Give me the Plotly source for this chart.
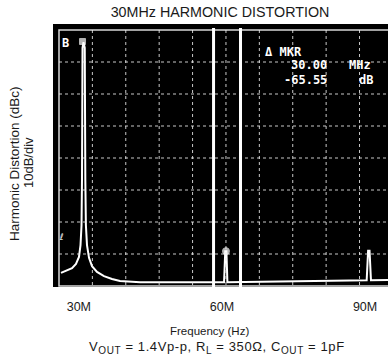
import plotly.graph_objects as go

# trace (MHz, dB rel. top graticule)
freq_mhz = [25.42, 26.47, 27.73, 28.56, 29.19, 29.51, 29.72, 29.82, 29.93, 30.14,
            30.40, 30.52, 30.64, 30.87, 31.29, 31.92, 32.97, 34.43, 36.11, 37.79,
            42.0, 50.0, 59.6, 59.85, 60.1, 60.3, 70.0, 80.0, 89.5, 89.8,
            90.1, 90.4, 94.0]
level_db = [-75.9, -75.3, -74.4, -73.1, -70.9, -67.2, -61.0, -47.0, -5.6, -3.8,
            -5.6, -47.0, -61.0, -67.2, -71.2, -73.8, -75.6, -76.9, -77.8, -78.4,
            -78.8, -78.8, -78.8, -69.1, -69.1, -78.8, -78.6, -78.4, -78.2, -69.0,
            -69.0, -78.2, -78.1]

marker_f = [29.93, 60.0]
marker_db = [-3.6, -69.1]
marker_sym = ["square", "circle"]

display_lines_mhz = [57.4, 63.05]

tick_vals = [30, 60, 90]
tick_text = ["30M", "60M", "90M"]

# graticule: 10 div x 8 div, 7 MHz/div, 10 dB/div
f_start = 25
f_div = 7
db_div = 10

W, H = 389, 364
L, R, T, B = 53, 1, 24, 77

fig = go.Figure()

fig.add_trace(go.Scatter(x=freq_mhz, y=level_db, mode="lines",
                         line=dict(color="white", width=2), hoverinfo="skip"))
fig.add_trace(go.Scatter(x=marker_f, y=marker_db, mode="markers",
                         marker=dict(color="white", size=[6, 7], symbol=marker_sym),
                         hoverinfo="skip"))

shapes = []
for k in range(1, 10):
    xv = f_start + k * f_div
    shapes.append(dict(type="line", xref="x", yref="y", x0=xv, x1=xv, y0=0, y1=-80,
                       line=dict(color="rgba(235,235,235,0.85)", width=1, dash="dot")))
for k in range(1, 8):
    yv = -k * db_div
    shapes.append(dict(type="line", xref="x", yref="y", x0=f_start, x1=f_start + 10 * f_div,
                       y0=yv, y1=yv,
                       line=dict(color="rgba(235,235,235,0.85)", width=1, dash="dot")))
shapes.append(dict(type="rect", xref="x", yref="y", x0=f_start, x1=f_start + 10 * f_div,
                   y0=0, y1=-80, line=dict(color="rgba(240,240,240,0.9)", width=1.5)))
for xv in display_lines_mhz:
    shapes.append(dict(type="line", xref="x", yref="paper", x0=xv, x1=xv, y0=0, y1=0.985,
                       line=dict(color="white", width=3)))

mono = dict(family="DejaVu Sans Mono", size=12, color="white")
annos = [
    dict(x=67.77, y=-6.9, text="<b>Δ MKR</b>"),
    dict(x=73.3, y=-10.9, text="<b>30.00</b>"),
    dict(x=85.3, y=-10.9, text="<b>MHz</b>"),
    dict(x=71.7, y=-15.6, text="<b>-65.55</b>"),
    dict(x=87.4, y=-15.6, text="<b>dB</b>"),
    dict(x=25.3, y=-4.0, text="<b>B</b>"),
]
annotations = []
for a in annos:
    annotations.append(dict(x=a["x"], y=a["y"], xref="x", yref="y", text=a["text"],
                            showarrow=False, xanchor="left", yanchor="middle", font=mono))
annotations.append(dict(x=24.6, y=-64.6, xref="x", yref="y", text="ℓ", showarrow=False,
                        xanchor="left", yanchor="middle",
                        font=dict(family="DejaVu Sans", size=9, color="white")))

fam = "Liberation Sans, Arial"
ink = "#1a1a1a"
sub = '<sub><span style="font-size:10px">%s</span></sub>'
cond_text = ('<span style="letter-spacing:0.6px">V' + sub % "OUT" + ' = 1.4Vp-p, R' + sub % "L"
             + ' = 350Ω, C' + sub % "OUT" + ' = 1pF</span>')
annotations += [
    dict(x=209 / W, y=1 - 331 / H, xref="paper", yref="paper", yanchor="middle",
         xanchor="center", text="Frequency (Hz)", showarrow=False,
         font=dict(family=fam, size=11.5, color=ink)),
    dict(x=217 / W, y=1 - 347 / H, xref="paper", yref="paper", yanchor="middle",
         xanchor="center", showarrow=False, font=dict(family=fam, size=13, color=ink),
         text=cond_text),
    dict(x=15 / W, y=1 - 164 / H, xref="paper", yref="paper", xanchor="center",
         yanchor="middle", textangle=-90, text="Harmonic Distortion (dBc)",
         showarrow=False, font=dict(family=fam, size=13.5, color=ink)),
    dict(x=28 / W, y=1 - 163 / H, xref="paper", yref="paper", xanchor="center",
         yanchor="middle", textangle=-90, text="10dB/div", showarrow=False,
         font=dict(family=fam, size=13, color=ink)),
]
# paper coords are relative to plot area; convert
for a in annotations:
    if a["xref"] == "paper":
        a["x"] = (a["x"] * W - L) / (W - L - R)
        a["y"] = (a["y"] * H - B) / (H - T - B)

fig.update_layout(
    width=W, height=H,
    margin=dict(l=L, r=R, t=T, b=B),
    paper_bgcolor="white", plot_bgcolor="black",
    showlegend=False,
    title=dict(text="30MHz HARMONIC DISTORTION", x=220 / W, y=1 - 12 / H,
               xanchor="center", yanchor="middle",
               font=dict(family=fam, size=14.3, color=ink)),
    xaxis=dict(range=[23.742, 93.97], showgrid=False, zeroline=False,
               tickvals=tick_vals, ticktext=tick_text, ticks="",
               tickfont=dict(family=fam, size=12.5, color=ink),
               ticklabelshift=-4, ticklabelstandoff=10),
    yaxis=dict(range=[-80.31, 1.875], showgrid=False, zeroline=False,
               showticklabels=False, ticks=""),
    shapes=shapes,
    annotations=annotations,
)

# page has a default 8px body margin, drop it so the figure sits at 0,0
fig.write_html("out.html", config={"staticPlot": True},
               post_script="document.body.style.margin='0px';")
